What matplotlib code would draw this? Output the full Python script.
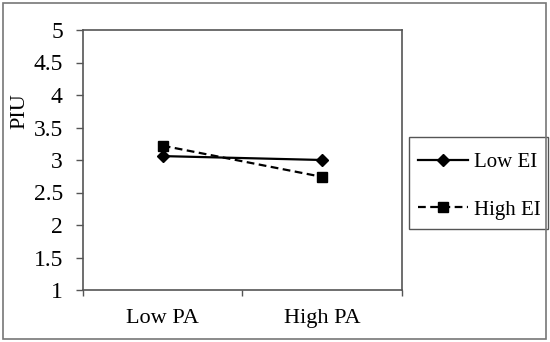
import matplotlib
matplotlib.use("Agg")
import matplotlib.pyplot as plt
from matplotlib.patches import Rectangle

categories = ["Low PA", "High PA"]
low_ei = [3.06, 3.00]
high_ei = [3.22, 2.74]
yticks = [1, 1.5, 2, 2.5, 3, 3.5, 4, 4.5, 5]
ytick_labels = ["1", "1.5", "2", "2.5", "3", "3.5", "4", "4.5", "5"]

plt.rcParams['font.family'] = ['Liberation Serif', 'DejaVu Serif']
fig = plt.figure(figsize=(5.5, 3.42), dpi=100)
W, H = 550, 342
ax = fig.add_axes([83 / W, 1 - 290 / H, (402 - 83) / W, (290 - 30) / H])

x = [0.5, 1.5]
ax.plot(x, low_ei, color='black', lw=1.6, marker='D', ms=6.5, label='Low EI')
ax.plot(x, high_ei, color='black', lw=1.6, ls=(0, (3.5, 2)), marker='s', ms=7.5, label='High EI')

ax.set_xlim(0, 2)
ax.set_ylim(1, 5)
ax.set_xticks([0, 1, 2])
ax.set_xticklabels([])
ax.set_xticks(x, minor=True)
ax.set_xticklabels(categories, minor=True, fontsize=16)
ax.tick_params(axis='x', which='minor', length=0, pad=14)
ax.tick_params(axis='x', which='major', direction='out', length=4, width=1, color='#555555')
ax.set_yticks(yticks)
ax.set_yticklabels(ytick_labels, fontsize=17)
ax.tick_params(axis='y', direction='out', length=5, width=1, pad=9.5, color='#555555')
for s in ax.spines.values():
    s.set_color('#555555')
    s.set_linewidth(1.2)

fig.text(20 / W, 1 - 111 / H, "PIU", rotation=90, fontsize=16, ha='center', va='center')

leg = fig.legend(loc='upper left', bbox_to_anchor=(409 / W, 1 - 143 / H), fontsize=15,
                 frameon=False, handlelength=2.4,
                 labelspacing=1.35, borderpad=0.45, handletextpad=0.25, borderaxespad=0)
fig.patches.append(Rectangle((409 / W, 1 - 229 / H), (548 - 409) / W, (229 - 137) / H,
                             transform=fig.transFigure, fill=False, edgecolor='#555555', lw=1))

fig.patches.append(Rectangle((2.5 / W, 3 / H), (546 - 2.5) / W, (339 - 3) / H, transform=fig.transFigure,
                             fill=False, edgecolor='#777777', lw=1.2))
fig.savefig("out.png", dpi=100)
